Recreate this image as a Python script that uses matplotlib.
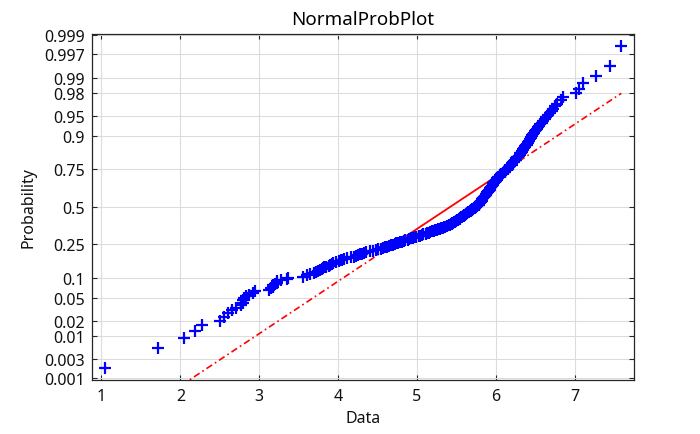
import numpy as np
import matplotlib
matplotlib.use("Agg")
import matplotlib.pyplot as plt
from statistics import NormalDist

# ---- data (sorted sample values) ----
data = [
    1.04, 1.72, 2.05, 2.19, 2.28, 2.50, 2.55, 2.60, 2.66, 2.71,
    2.77, 2.79, 2.80, 2.81, 2.83, 2.87, 2.92, 2.95, 3.13, 3.15,
    3.17, 3.18, 3.20, 3.22, 3.23, 3.28, 3.35, 3.37, 3.55, 3.60,
    3.64, 3.69, 3.72, 3.75, 3.77, 3.79, 3.81, 3.82, 3.85, 3.88,
    3.90, 3.92, 3.94, 3.97, 4.01, 4.04, 4.05, 4.07, 4.11, 4.16,
    4.20, 4.23, 4.25, 4.28, 4.30, 4.33, 4.36, 4.40, 4.44, 4.48,
    4.51, 4.54, 4.57, 4.59, 4.62, 4.64, 4.67, 4.69, 4.72, 4.74,
    4.76, 4.78, 4.81, 4.83, 4.85, 4.88, 4.90, 4.92, 4.95, 4.97,
    4.99, 5.02, 5.04, 5.06, 5.08, 5.11, 5.13, 5.15, 5.17, 5.19,
    5.21, 5.23, 5.25, 5.27, 5.29, 5.31, 5.33, 5.34, 5.36, 5.38,
    5.40, 5.42, 5.43, 5.44, 5.45, 5.46, 5.47, 5.48, 5.49, 5.50,
    5.51, 5.52, 5.53, 5.54, 5.55, 5.56, 5.57, 5.58, 5.59, 5.60,
    5.61, 5.62, 5.62, 5.63, 5.64, 5.65, 5.66, 5.67, 5.68, 5.69,
    5.70, 5.70, 5.71, 5.72, 5.73, 5.74, 5.75, 5.75, 5.76, 5.77,
    5.78, 5.78, 5.79, 5.79, 5.80, 5.80, 5.81, 5.81, 5.82, 5.82,
    5.83, 5.83, 5.84, 5.84, 5.85, 5.85, 5.86, 5.86, 5.87, 5.87,
    5.88, 5.88, 5.89, 5.89, 5.89, 5.90, 5.90, 5.91, 5.91, 5.92,
    5.92, 5.93, 5.93, 5.94, 5.94, 5.95, 5.95, 5.96, 5.96, 5.97,
    5.97, 5.98, 5.98, 5.99, 5.99, 6.00, 6.00, 6.01, 6.02, 6.02,
    6.03, 6.03, 6.04, 6.05, 6.05, 6.06, 6.07, 6.08, 6.09, 6.10,
    6.11, 6.12, 6.12, 6.13, 6.14, 6.15, 6.16, 6.17, 6.17, 6.18,
    6.19, 6.20, 6.20, 6.21, 6.22, 6.23, 6.23, 6.24, 6.25, 6.26,
    6.26, 6.27, 6.28, 6.29, 6.30, 6.30, 6.31, 6.32, 6.33, 6.33,
    6.34, 6.35, 6.36, 6.37, 6.37, 6.38, 6.39, 6.40, 6.41, 6.41,
    6.42, 6.43, 6.44, 6.45, 6.46, 6.46, 6.47, 6.48, 6.49, 6.51,
    6.52, 6.53, 6.55, 6.56, 6.58, 6.60, 6.62, 6.64, 6.66, 6.68,
    6.71, 6.73, 6.75, 6.78, 6.82, 6.85, 7.02, 7.05, 7.11, 7.27,
    7.45, 7.59,
]
prob_ticks = [0.001, 0.003, 0.01, 0.02, 0.05, 0.1, 0.25, 0.5, 0.75,
              0.9, 0.95, 0.98, 0.99, 0.997, 0.999]
prob_labels = ["0.001", "0.003", "0.01", "0.02", "0.05", "0.1", "0.25", "0.5",
               "0.75", "0.9", "0.95", "0.98", "0.99", "0.997", "0.999"]
x_ticks = [1, 2, 3, 4, 5, 6, 7]
title_text = "NormalProbPlot"
x_label = "Data"
y_label = "Probability"

plt.rcParams["font.family"] = ["Noto Sans", "DejaVu Sans"]

_nd = NormalDist()
_ppf = np.vectorize(lambda p: _nd.inv_cdf(float(p)), otypes=[float])
_cdf = np.vectorize(lambda z: _nd.cdf(float(z)), otypes=[float])


def fwd(p):
    p = np.clip(np.asarray(p, dtype=float), 1e-12, 1 - 1e-12)
    return _ppf(p)


def inv(z):
    return _cdf(np.asarray(z, dtype=float))


x = np.sort(np.asarray(data, dtype=float))
n = len(x)
pp = (np.arange(1, n + 1) - 0.5) / n

q1, q3 = np.percentile(x, [25, 75], method="hazen")
z1, z3 = _nd.inv_cdf(0.25), _nd.inv_cdf(0.75)
slope = (q3 - q1) / (z3 - z1)
mu = q1 - slope * z1
xmin, xmax = x.min(), x.max()
pmin = _nd.cdf((xmin - mu) / slope)
pmax = _nd.cdf((xmax - mu) / slope)

fig = plt.figure(figsize=(7.0, 4.35), dpi=100)
ax = fig.add_axes([0.131, 0.1245, 0.775, 0.795])
ax.set_yscale("function", functions=(fwd, inv))

red = "#ff0000"
ax.plot([xmin, q1], [pmin, 0.25], color=red, lw=1.2,
        linestyle=(0, (4, 2, 1, 2)), zorder=2)
ax.plot([q3, xmax], [0.75, pmax], color=red, lw=1.2,
        linestyle=(0, (4, 2, 1, 2)), zorder=2)
ax.plot([q1, q3], [0.25, 0.75], color=red, lw=1.3, zorder=2)
ax.plot(x, pp, linestyle="none", marker="+", color="#0000ff",
        markersize=8.5, markeredgewidth=1.6, zorder=3)

r = xmax - xmin
ax.set_xlim(xmin - 0.025 * r, xmax + 0.025 * r)
ax.set_ylim(0.25 / n, 1 - 0.25 / n)
ax.set_xticks(x_ticks)
ax.set_xticklabels([str(t) for t in x_ticks])
ax.set_yticks(prob_ticks)
ax.set_yticklabels(prob_labels)
ax.minorticks_off()

ax.grid(True, color="#dcdcdc", linewidth=0.8)
ax.set_axisbelow(True)
ax.tick_params(direction="in", length=3.5, width=0.8, top=True, right=True,
               labelsize=11.5, colors="#262626", labelcolor="#111111", pad=5)
ax.tick_params(axis="x", pad=6)
for s in ax.spines.values():
    s.set_color("#262626")
    s.set_linewidth(0.9)

ax.set_title(title_text, fontsize=13.5, color="#000000", pad=7)
ax.set_xlabel(x_label, fontsize=11.5, color="#111111", labelpad=4)
ax.set_ylabel(y_label, fontsize=11.5, color="#111111", labelpad=5)

fig.savefig("out.png", dpi=100)
